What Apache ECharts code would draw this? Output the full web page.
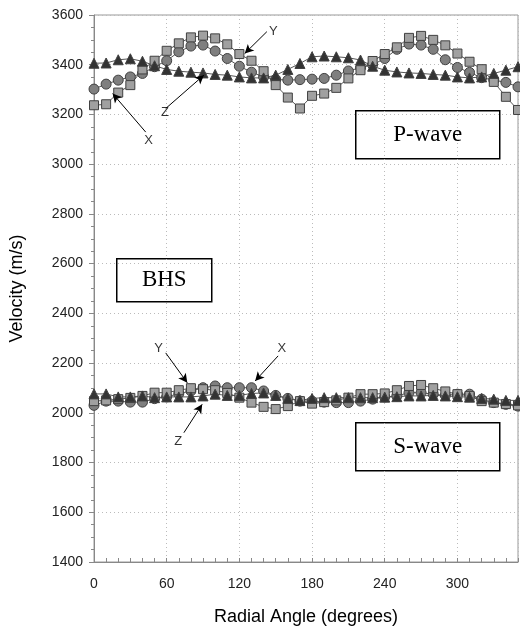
<!DOCTYPE html>
<html><head><meta charset="utf-8">
<script src="https://cdn.jsdelivr.net/npm/echarts@6/dist/echarts.min.js"></script>
<style>html,body{margin:0;padding:0;background:#fff}#c{width:520px;height:635px}</style>
</head><body><div id="c"></div>
<script>
const angles = [0,10,20,30,40,50,60,70,80,90,100,110,120,130,140,150,160,170,180,190,200,210,220,230,240,250,260,270,280,290,300,310,320,330,340,350];
// P-wave
const pX = [3302,3322,3338,3351,3365,3392,3416,3452,3475,3479,3455,3425,3394,3370,3351,3341,3338,3340,3342,3345,3358,3375,3388,3400,3425,3462,3483,3479,3462,3420,3389,3369,3348,3338,3329,3311];
const pY = [3237,3241,3288,3318,3381,3416,3456,3486,3510,3517,3506,3482,3443,3416,3374,3318,3268,3224,3275,3284,3307,3345,3378,3415,3443,3470,3508,3516,3500,3478,3445,3412,3382,3331,3271,3218];
const pZ = [3406,3407,3420,3424,3414,3396,3381,3374,3370,3367,3361,3358,3351,3347,3347,3358,3381,3405,3432,3435,3432,3428,3419,3394,3378,3371,3367,3365,3361,3358,3351,3347,3351,3365,3378,3392];
// S-wave
const sX = [2030,2047,2047,2043,2043,2057,2064,2077,2088,2101,2108,2101,2101,2101,2088,2070,2058,2047,2047,2043,2041,2041,2047,2055,2064,2068,2081,2081,2075,2070,2075,2075,2055,2041,2034,2027];
const sY = [2047,2050,2055,2060,2068,2081,2081,2091,2099,2095,2091,2080,2061,2041,2024,2015,2027,2047,2037,2043,2050,2061,2075,2075,2078,2091,2108,2112,2099,2086,2075,2068,2047,2041,2035,2030];
const sZ = [2076,2076,2064,2064,2068,2061,2064,2064,2064,2068,2075,2070,2070,2078,2080,2070,2058,2050,2058,2061,2061,2061,2061,2061,2063,2065,2068,2068,2070,2068,2065,2063,2058,2055,2050,2050];
const xTicks = [0,60,120,180,240,300];
const yTicks = [1400,1600,1800,2000,2200,2400,2600,2800,3000,3200,3400,3600];
// annotation arrows: [label, tail, head, labelPos]
const arrows = [
  ['X',[42.7,3129],[15.4,3284],[45,3096]],
  ['Z',[59.2,3224],[90.7,3358],[58.6,3210]],
  ['Y',[142.7,3533],[124.4,3445],[148,3533]],
  ['Y',[59.2,2241],[77,2121],[53.4,2261]],
  ['X',[152,2229],[133,2128],[155,2257]],
  ['Z',[74.2,1920],[89.3,2034],[69.6,1886]]
];
const boxes = [['P-wave',355,110,144,48],['S-wave',355,422,144,48],['BHS',116,258,95,43]];

const pairs = a => angles.map((d,i)=>[d,a[i]]);
const styles = {
  X:{symbol:'circle',size:10,color:'#7f7f7f'},
  Y:{symbol:'rect',size:9,color:'#a0a0a0'},
  Z:{symbol:'triangle',size:10,color:'#333333'}
};
function mk(name,data){
  const s=styles[name];
  return {type:'line',name:name,data:pairs(data),symbol:s.symbol,symbolSize:s.size,showAllSymbol:true,
    lineStyle:{color:'#555',width:1},itemStyle:{color:s.color,borderColor:'#404040',borderWidth:1},
    emphasis:{disabled:true},animation:false,z:3};
}
const series=[mk('X',pX),mk('Y',pY),mk('Z',pZ),mk('X',sX),mk('Y',sY),mk('Z',sZ)];
series.push({type:'line',data:[],markLine:{silent:true,animation:false,symbol:['none','arrow'],symbolSize:[7,9],
  lineStyle:{color:'#000',width:1,type:'solid'},
  label:{show:false},
  data:arrows.map(a=>[{coord:a[1]},{coord:a[2]}])}});
series.push({type:'scatter',data:arrows.map(a=>({value:a[3],name:a[0]})),symbolSize:0,silent:true,animation:false,
  label:{show:true,position:'inside',formatter:p=>p.name,fontFamily:'Liberation Sans',fontSize:13,color:'#000'}});

const chart=echarts.init(document.getElementById('c'),null,{renderer:'canvas'});
chart.setOption({
  animation:false,
  grid:{left:93,top:15,right:2,bottom:73,show:true,borderColor:'#999',borderWidth:1},
  xAxis:{type:'value',min:0,max:350,interval:60,name:'Radial Angle (degrees)',nameLocation:'middle',nameGap:46,
    nameTextStyle:{fontFamily:'Liberation Sans',fontSize:18,color:'#000'},
    axisLine:{lineStyle:{color:'#888'}},axisTick:{inside:true,length:4,lineStyle:{color:'#888'}},
    minorTick:{show:true,splitNumber:6,length:4,lineStyle:{color:'#888'}},
    axisLabel:{showMaxLabel:false,fontFamily:'Liberation Sans',fontSize:14,color:'#222',margin:15,
      formatter:v=>xTicks.includes(v)?String(v):''},
    splitLine:{show:true,lineStyle:{color:'#bbb',type:[1,3],width:1}}},
  yAxis:{type:'value',min:1400,max:3600,interval:200,name:'Velocity (m/s)',nameLocation:'middle',nameGap:68,
    nameTextStyle:{fontFamily:'Liberation Sans',fontSize:18,color:'#000'},
    axisLine:{show:true,lineStyle:{color:'#888'}},axisTick:{show:true,length:5,lineStyle:{color:'#888'}},
    minorTick:{show:true,splitNumber:4,length:3,lineStyle:{color:'#888'}},
    axisLabel:{fontFamily:'Liberation Sans',fontSize:14,color:'#222',margin:11,
      formatter:v=>yTicks.includes(v)?String(v):''},
    splitLine:{show:true,lineStyle:{color:'#bbb',type:[1,3],width:1}}},
  graphic:boxes.map(b=>({type:'group',left:b[1],top:b[2],z:10,children:[
    {type:'rect',shape:{x:0,y:0,width:b[3],height:b[4]},style:{fill:'#fff',stroke:'#000',lineWidth:1.5}},
    {type:'text',x:b[3]/2,y:b[4]/2,style:{text:b[0],fontFamily:'Liberation Serif',fontSize:23,fill:'#000',align:'center',verticalAlign:'middle'}}
  ]})),
  series:series
});
</script></body></html>
